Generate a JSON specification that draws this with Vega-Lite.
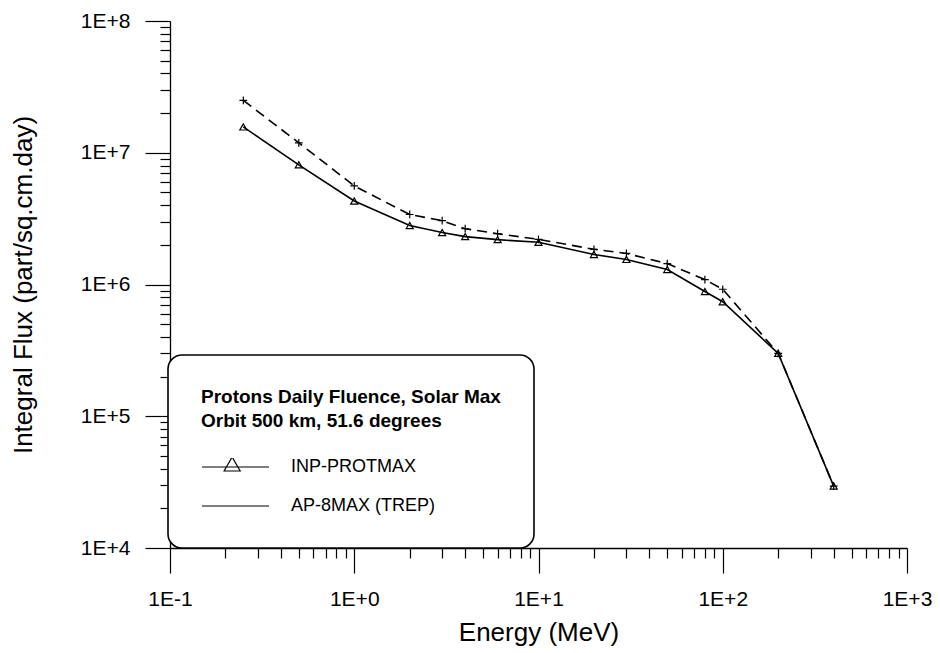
{
  "$schema": "https://vega.github.io/schema/vega-lite/v6.json",
  "width": 737,
  "height": 527,
  "autosize": "none",
  "padding": {"left": 170, "top": 21, "right": 33, "bottom": 105},
  "background": "white",
  "config": {"view": {"stroke": null}, "font": "Liberation Sans"},
  "data": {"values": [
    {"series": "INP-PROTMAX", "energy": 0.25, "flux": 15700000},
    {"series": "INP-PROTMAX", "energy": 0.5, "flux": 8100000},
    {"series": "INP-PROTMAX", "energy": 1, "flux": 4300000},
    {"series": "INP-PROTMAX", "energy": 2, "flux": 2800000},
    {"series": "INP-PROTMAX", "energy": 3, "flux": 2480000},
    {"series": "INP-PROTMAX", "energy": 4, "flux": 2310000},
    {"series": "INP-PROTMAX", "energy": 6, "flux": 2190000},
    {"series": "INP-PROTMAX", "energy": 10, "flux": 2090000},
    {"series": "INP-PROTMAX", "energy": 20, "flux": 1690000},
    {"series": "INP-PROTMAX", "energy": 30, "flux": 1550000},
    {"series": "INP-PROTMAX", "energy": 50, "flux": 1300000},
    {"series": "INP-PROTMAX", "energy": 80, "flux": 885000},
    {"series": "INP-PROTMAX", "energy": 100, "flux": 740000},
    {"series": "INP-PROTMAX", "energy": 200, "flux": 300000},
    {"series": "INP-PROTMAX", "energy": 400, "flux": 29500},
    {"series": "AP-8MAX (TREP)", "energy": 0.25, "flux": 25000000},
    {"series": "AP-8MAX (TREP)", "energy": 0.5, "flux": 11900000},
    {"series": "AP-8MAX (TREP)", "energy": 1, "flux": 5600000},
    {"series": "AP-8MAX (TREP)", "energy": 2, "flux": 3400000},
    {"series": "AP-8MAX (TREP)", "energy": 3, "flux": 3050000},
    {"series": "AP-8MAX (TREP)", "energy": 4, "flux": 2650000},
    {"series": "AP-8MAX (TREP)", "energy": 6, "flux": 2430000},
    {"series": "AP-8MAX (TREP)", "energy": 10, "flux": 2200000},
    {"series": "AP-8MAX (TREP)", "energy": 20, "flux": 1850000},
    {"series": "AP-8MAX (TREP)", "energy": 30, "flux": 1720000},
    {"series": "AP-8MAX (TREP)", "energy": 50, "flux": 1440000},
    {"series": "AP-8MAX (TREP)", "energy": 80, "flux": 1090000},
    {"series": "AP-8MAX (TREP)", "energy": 100, "flux": 920000},
    {"series": "AP-8MAX (TREP)", "energy": 200, "flux": 300000},
    {"series": "AP-8MAX (TREP)", "energy": 400, "flux": 29500}
  ]},
  "resolve": {"axis": {"x": "independent", "y": "independent"}},
  "layer": [
    {
      "transform": [{"filter": "datum.series === 'INP-PROTMAX'"}],
      "mark": {"type": "line", "stroke": "black", "strokeWidth": 1.6},
      "encoding": {
        "x": {
          "field": "energy", "type": "quantitative",
          "scale": {"type": "log", "domain": [0.1, 1000], "nice": false},
          "axis": {
            "orient": "bottom", "title": "Energy (MeV)",
            "values": [0.1, 1, 10, 100, 1000],
            "labelExpr": "'1E' + (round(log(datum.value)/LN10) < 0 ? '-' : '+') + abs(round(log(datum.value)/LN10))",
            "tickSize": 25, "grid": false, "labelOverlap": false, "labelFlush": false,
            "domainColor": "black", "domainWidth": 1.3, "tickColor": "black", "tickWidth": 1.2,
            "labelColor": "black", "labelFontSize": 21, "labelPadding": 15,
            "titleColor": "black", "titleFontSize": 26, "titleFontWeight": "normal", "titlePadding": 10
          }
        },
        "y": {
          "field": "flux", "type": "quantitative",
          "scale": {"type": "log", "domain": [10000, 100000000], "nice": false},
          "axis": {
            "orient": "left", "title": "Integral Flux (part/sq.cm.day)",
            "values": [10000, 100000, 1000000, 10000000, 100000000],
            "labelExpr": "'1E' + (round(log(datum.value)/LN10) < 0 ? '-' : '+') + abs(round(log(datum.value)/LN10))",
            "tickSize": 25, "grid": false, "labelOverlap": false, "labelFlush": false,
            "domainColor": "black", "domainWidth": 1.3, "tickColor": "black", "tickWidth": 1.2,
            "labelColor": "black", "labelFontSize": 21, "labelPadding": 15,
            "titleColor": "black", "titleFontSize": 26, "titleFontWeight": "normal", "titlePadding": 44
          }
        },
        "color": {
          "field": "series", "type": "nominal",
          "scale": {"domain": ["INP-PROTMAX", "AP-8MAX (TREP)"], "range": ["black", "black"]},
          "legend": {
            "orient": "none", "legendX": -2, "legendY": 334,
            "title": ["Protons Daily Fluence, Solar Max", "Orbit 500 km, 51.6 degrees"],
            "titleFont": "Liberation Sans", "titleFontSize": 19, "titleFontWeight": "bold",
            "titleLineHeight": 24, "titleAnchor": "start", "titleAlign": "left", "titleLimit": 500,
            "titlePadding": 27, "titleColor": "black",
            "labelFont": "Liberation Sans", "labelFontSize": 18, "labelColor": "black", "labelOffset": 21, "labelLimit": 300,
            "symbolSize": 4489, "symbolStrokeWidth": 1.2, "symbolStrokeColor": "black",
            "symbolFillColor": "transparent",
            "rowPadding": 21, "clipHeight": 18,
            "padding": 33, "strokeColor": "black", "cornerRadius": 14, "fillColor": "white",
            "encode": {
              "legend": {"update": {"strokeWidth": {"value": 1.6}}},
              "symbols": {
                "update": {
                  "shape": {"signal": "datum.value === 'INP-PROTMAX' ? 'M-1,0H1M-0.34,0.12L-0.1,-0.3L0.14,0.12Z' : 'M-1,0H1'"},
                  "strokeDash": {"value": [1, 0]},
                  "stroke": {"value": "black"},
                  "fill": {"value": "transparent"}
                }
              }
            }
          }
        }
      }
    },
    {
      "transform": [{"filter": "datum.series === 'AP-8MAX (TREP)'"}],
      "mark": {"type": "line", "stroke": "black", "strokeWidth": 1.6, "strokeDash": [10, 6]},
      "encoding": {
        "x": {"field": "energy", "type": "quantitative", "scale": {"type": "log", "domain": [0.1, 1000], "nice": false}, "axis": null},
        "y": {"field": "flux", "type": "quantitative", "scale": {"type": "log", "domain": [10000, 100000000], "nice": false}, "axis": null},
        "color": {"field": "series", "type": "nominal", "scale": {"domain": ["INP-PROTMAX", "AP-8MAX (TREP)"], "range": ["black", "black"]}}
      }
    },
    {
      "transform": [{"filter": "datum.series === 'INP-PROTMAX'"}],
      "mark": {"type": "point", "shape": "triangle-up", "filled": false, "color": "black", "strokeWidth": 1.2, "opacity": 1, "size": 50},
      "encoding": {
        "x": {
          "field": "energy", "type": "quantitative",
          "scale": {"type": "log", "domain": [0.1, 1000], "nice": false},
          "axis": {
            "orient": "bottom", "title": null, "labels": false, "domain": false, "grid": false,
            "values": [0.2,0.3,0.4,0.5,0.6,0.7,0.8,0.9,2,3,4,5,6,7,8,9,20,30,40,50,60,70,80,90,200,300,400,500,600,700,800,900],
            "tickSize": 10, "tickColor": "black", "tickWidth": 1.2
          }
        },
        "y": {
          "field": "flux", "type": "quantitative",
          "scale": {"type": "log", "domain": [10000, 100000000], "nice": false},
          "axis": {
            "orient": "left", "title": null, "labels": false, "domain": false, "grid": false,
            "values": [20000,30000,40000,50000,60000,70000,80000,90000,200000,300000,400000,500000,600000,700000,800000,900000,2000000,3000000,4000000,5000000,6000000,7000000,8000000,9000000,20000000,30000000,40000000,50000000,60000000,70000000,80000000,90000000],
            "tickSize": 10, "tickColor": "black", "tickWidth": 1.2
          }
        }
      }
    },
    {
      "transform": [{"filter": "datum.series === 'AP-8MAX (TREP)'"}],
      "mark": {"type": "point", "shape": "M-1,0H1M0,-1V1", "filled": false, "color": "black", "strokeWidth": 1.2, "opacity": 1, "size": 60},
      "encoding": {
        "x": {"field": "energy", "type": "quantitative", "scale": {"type": "log", "domain": [0.1, 1000], "nice": false}, "axis": null},
        "y": {"field": "flux", "type": "quantitative", "scale": {"type": "log", "domain": [10000, 100000000], "nice": false}, "axis": null}
      }
    }
  ]
}
